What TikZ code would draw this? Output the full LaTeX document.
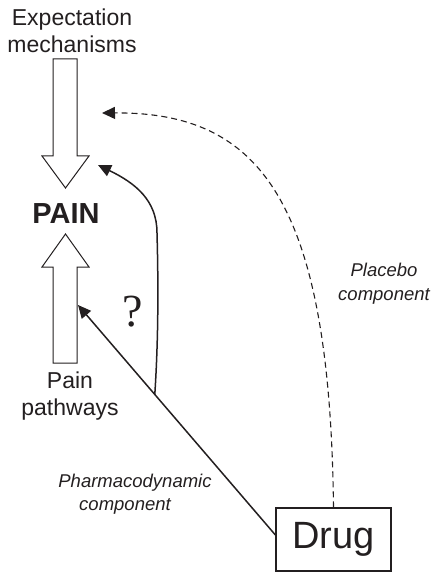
\documentclass[tikz,border=0pt]{standalone}
\usepackage{fontspec}
\setmainfont{Liberation Sans}
\newfontfamily\qfont{Liberation Serif}
\usetikzlibrary{arrows.meta}
\definecolor{ink}{RGB}{35,31,32}
\begin{document}
\begin{tikzpicture}[x=1pt,y=-1pt,
  every node/.style={text=ink},
  blockarrow/.style={draw=ink, line width=1pt, fill=white},
  lbl/.style={font=\fontsize{23}{27.5}\selectfont, align=center, inner sep=0pt},
  comp/.style={font=\fontsize{18.5}{23.5}\selectfont\itshape, align=center, inner sep=0pt},
  link/.style={draw=ink, line width=1.5pt, -{Triangle[length=13pt,width=12pt]}},
  dlink/.style={draw=ink, line width=1.1pt, dash pattern=on 6pt off 4pt, -{Triangle[length=13pt,width=12pt]}}
]
\useasboundingbox (0,0) rectangle (432,572);

% texts
\node[lbl] (expect) at (72,31) {Expectation\\mechanisms};
\node[font=\fontsize{29}{30}\selectfont\bfseries, inner sep=0pt] (pain) at (66,214) {PAIN};
\node[lbl] (pathways) at (70,396) {Pain\\pathways};
\node[comp] (pharma) at (135,494) {Pharmacodynamic\\component\hspace*{20pt}};
\node[comp] (placebo) at (384,283.5) {Placebo\\component};
\node[draw=ink, line width=1.2pt, minimum width=115pt, minimum height=63pt, inner sep=0pt,
      font=\fontsize{38}{42}\selectfont] (drug) at (333.5,539.5) {Drug};
\node[font=\qfont\fontsize{46}{48}\selectfont, inner sep=0pt] (q) at (133,312) {?};

% block arrows
\draw[blockarrow] (53,59) -- (77,59) -- (77,156) -- (89,156) -- (65.5,188) -- (42,156) -- (53,156) -- cycle;
\draw[blockarrow] (53,363) -- (77,363) -- (77,267) -- (89,267) -- (65.5,234) -- (42,267) -- (53,267) -- cycle;

% connector end points
\coordinate (pdtip) at (78,305);
\coordinate (pdstart) at ([yshift=4.5pt]drug.west);
\coordinate (exptipA) at (102,113);
\coordinate (exptipB) at (98,165);

% pharmacodynamic arrow
\draw[link] (pdstart) -- (pdtip) coordinate[pos=0.611] (split);
% branch to expectation
\draw[link] (split) .. controls (159,330) and (158,270) .. (157,233)
            .. controls (157,200) and (135,183) .. (exptipB);
% placebo dashed arrow
\draw[dlink] (drug.north) .. controls (330,200) and (260,112) .. (exptipA);
\end{tikzpicture}
\end{document}
